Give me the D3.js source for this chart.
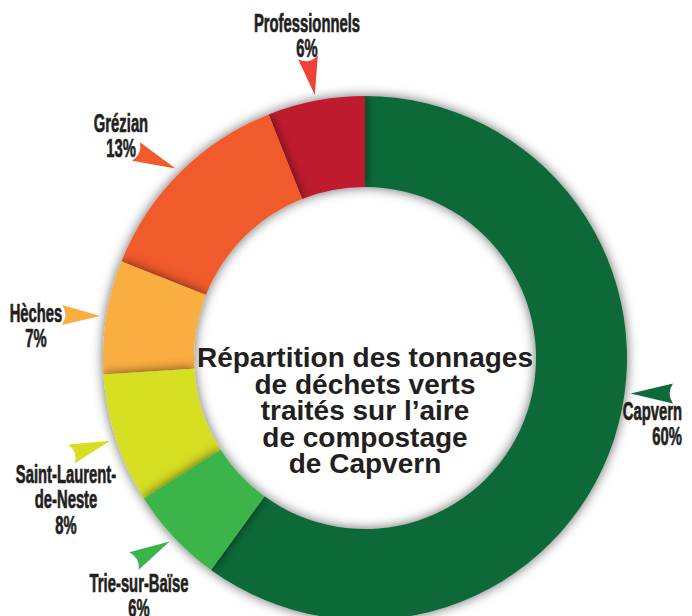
<!DOCTYPE html>
<html>
<head>
<meta charset="utf-8">
<title>Répartition des tonnages</title>
<style>
  body { margin: 0; background: #fff; }
  svg { display: block; }
  .lbl { font-family: "Liberation Sans Narrow", "Liberation Sans", Arial, sans-serif; font-weight: bold; font-size: 26px; fill: #231f20; stroke: #231f20; stroke-width: 0.7px; }
  .title { font-family: "Liberation Sans", Arial, sans-serif; font-weight: bold; font-size: 28px; fill: #231f20; }
</style>
</head>
<body>
<script src="https://d3js.org/d3.v7.min.js"></script>
<script>
// Data, clockwise from 12 o'clock
var names = ["Capvern", "Trie-sur-Baïse", "Saint-Laurent-de-Neste", "Hèches", "Grézian", "Professionnels"];
var values = [60, 6, 8, 7, 13, 6];
var labelLines = [["Capvern"], ["Trie-sur-Baïse"], ["Saint-Laurent-", "de-Neste"], ["Hèches"], ["Grézian"], ["Professionnels"]];
var titleLines = ["Répartition des tonnages", "de déchets verts", "traités sur l’aire", "de compostage", "de Capvern"];

var colors = ["#0e6a39", "#3bb54a", "#d6df23", "#fbae3f", "#f15a29", "#be1e2d"];
var arrowColors = ["#0e6a39", "#3bb54a", "#d6df23", "#fbae3f", "#f15a29", "#ef4136"];

// label layout: text anchor point, arrow base point, optional tip angle (deg)
var layout = [
  {x: 682, y: 420, anchor: "end", base: [673, 393.5], angle: 97.6},
  {x: 139, y: 592, anchor: "middle", base: [134, 561]},
  {x: 66, y: 483, anchor: "middle", base: [71.5, 454]},
  {x: 36, y: 322, anchor: "middle", base: [62, 315]},
  {x: 121, y: 132, anchor: "middle", base: [136, 151.5]},
  {x: 307, y: 32, anchor: "middle", base: [308, 57.5]}
];

var width = 692, height = 616;
var cx = 365, cy = 358, outerR = 262, innerR = 171;

var svg = d3.select("body").append("svg")
    .attr("width", width)
    .attr("height", height);

var defs = svg.append("defs");
var f = defs.append("filter").attr("id", "shadow")
    .attr("x", "-30%").attr("y", "-30%").attr("width", "160%").attr("height", "160%");
f.append("feDropShadow")
    .attr("dx", 0).attr("dy", 0)
    .attr("stdDeviation", 6)
    .attr("flood-color", "#000")
    .attr("flood-opacity", 0.6);

var pie = d3.pie().sort(null).value(function(d) { return d; });
var arcs = pie(values);

var arc = d3.arc().innerRadius(innerR).outerRadius(outerR);

var g = svg.append("g").attr("transform", "translate(" + cx + "," + cy + ")");

// draw order so each slice overlaps the one clockwise after it
var order = [0, 5, 4, 3, 2, 1];
g.selectAll("path.slice")
  .data(order.map(function(i) { return {a: arcs[i], i: i}; }))
  .enter().append("path")
    .attr("class", "slice")
    .attr("d", function(d) { return arc(d.a); })
    .attr("fill", function(d) { return colors[d.i]; })
    .attr("filter", "url(#shadow)");

// arrows
var tipR = outerR + 6;
arcs.forEach(function(a, i) {
  var L = layout[i];
  var ang = L.angle !== undefined ? L.angle * Math.PI / 180 : (a.startAngle + a.endAngle) / 2;
  var tip = [cx + tipR * Math.sin(ang), cy - tipR * Math.cos(ang)];
  var b = L.base;
  var dx = tip[0] - b[0], dy = tip[1] - b[1];
  var len = Math.sqrt(dx * dx + dy * dy);
  var ux = dx / len, uy = dy / len;
  var px = -uy, py = ux;
  var hw = 10;
  var b1 = [b[0] + px * hw, b[1] + py * hw];
  var b2 = [b[0] - px * hw, b[1] - py * hw];
  var ctrl = [b[0] + ux * 7, b[1] + uy * 7];
  var p = d3.path();
  p.moveTo(tip[0], tip[1]);
  p.lineTo(b1[0], b1[1]);
  p.quadraticCurveTo(ctrl[0], ctrl[1], b2[0], b2[1]);
  p.closePath();
  svg.append("path").attr("d", p.toString()).attr("fill", arrowColors[i]);
});

// labels
arcs.forEach(function(a, i) {
  var L = layout[i];
  var lines = labelLines[i].concat([values[i] + "%"]);
  var t = svg.append("text")
      .attr("class", "lbl")
      .attr("text-anchor", L.anchor)
      .attr("transform", "translate(" + L.x + "," + L.y + ") scale(0.57,1)");
  lines.forEach(function(s, k) {
    t.append("tspan").attr("x", 0).attr("y", k * 25.5).text(s);
  });
});

// centre title
var tt = svg.append("text")
    .attr("class", "title")
    .attr("text-anchor", "middle");
titleLines.forEach(function(s, k) {
  tt.append("tspan").attr("x", cx).attr("y", 367 + k * 26.5).text(s);
});
</script>
</body>
</html>
